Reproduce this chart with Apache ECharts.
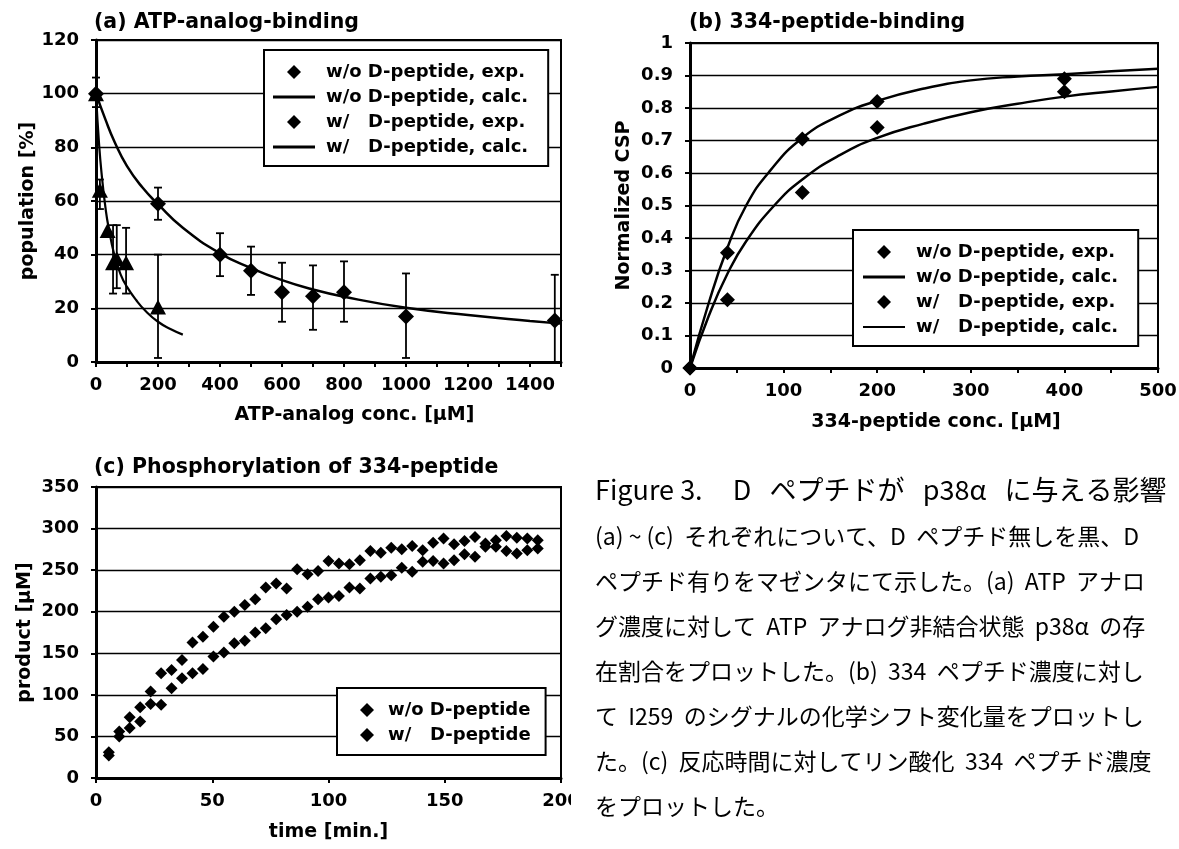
<!DOCTYPE html>
<html><head><meta charset="utf-8">
<script src="https://cdn.jsdelivr.net/npm/echarts/dist/echarts.min.js"></script>
<style>html,body{margin:0;padding:0;background:#fff}#c{width:1179px;height:849px}</style>
</head><body><div id="c"></div>
<script>
// ---------- DATA ----------
// (a) ATP-analog-binding
const aWoX    = [0, 200, 400, 500, 600, 700, 800, 1000, 1480];
const aWoY    = [100, 59, 40, 34, 26, 24.5, 26, 17, 15.5];
const aWoLow  = [95, 53, 32, 25, 15, 12, 15, 1.5, 0];
const aWoHigh = [106, 65, 48, 43, 37, 36, 37.5, 33, 32.5];
const aWX     = [0, 12.5, 37.5, 55, 67, 97, 200];
const aWY     = [100, 64, 49, 37, 38.5, 37, 20.5];
const aWLow   = [null, 57, null, 25.5, 27.5, 25.5, 1.5];
const aWHigh  = [null, 68, null, 51, 51, 50, 40];
const aCalcWoX = [0, 30, 60, 100, 150, 200, 280, 400, 500, 600, 700, 800, 1000, 1200, 1400, 1500];
const aCalcWoY = [100, 90.5, 82, 73, 65, 58.8, 50, 40.5, 35, 30.5, 27, 24.3, 20.2, 17.5, 15.3, 14.3];
const aCalcWX  = [0, 10, 20, 30, 40, 60, 80, 100, 130, 160, 200, 240, 280];
const aCalcWY  = [100, 81, 68, 58, 50.5, 39.5, 32.5, 28, 23, 19, 15, 12.3, 10.2];
const aXTicks = [0, 200, 400, 600, 800, 1000, 1200, 1400];
const aYTicks = [0, 20, 40, 60, 80, 100, 120];

// (b) 334-peptide-binding
const bX   = [0, 40, 120, 200, 400];
const bWoY = [0, 0.355, 0.705, 0.82, 0.89];
const bWY  = [0, 0.21, 0.54, 0.74, 0.85];
const bCalcWoX = [0, 20, 40, 60, 85, 120, 160, 200, 250, 300, 350, 400, 450, 500];
const bCalcWoY = [0, 0.2, 0.37, 0.5, 0.605, 0.708, 0.777, 0.822, 0.86, 0.885, 0.897, 0.904, 0.913, 0.921];
const bCalcWX  = [0, 20, 40, 60, 90, 120, 160, 200, 250, 300, 350, 400, 450, 500];
const bCalcWY  = [0, 0.16, 0.29, 0.39, 0.5, 0.58, 0.655, 0.708, 0.752, 0.787, 0.813, 0.835, 0.851, 0.865];
const bXTicks = [0, 100, 200, 300, 400, 500];
const bYTicks = [0, 0.1, 0.2, 0.3, 0.4, 0.5, 0.6, 0.7, 0.8, 0.9, 1];

// (c) Phosphorylation of 334-peptide
const cT  = [5.5, 10, 14.5, 19, 23.5, 28, 32.5, 37, 41.5, 46, 50.5, 55, 59.5, 64, 68.5, 73, 77.5, 82, 86.5, 91, 95.5,
             100, 104.5, 109, 113.5, 118, 122.5, 127, 131.5, 136, 140.5, 145, 149.5, 154, 158.5, 163, 167.5, 172, 176.5, 181, 185.5, 190];
const cWo = [31, 56, 73, 85, 104, 126, 130, 142, 163, 170, 182, 194, 200, 208, 215, 229, 234, 228, 251, 245, 249,
             261, 258, 257, 262, 273, 271, 277, 275, 279, 274, 283, 288, 281, 285, 290, 282, 286, 291, 289, 288, 286];
const cW  = [27, 50, 60, 68, 89, 88, 108, 120, 126, 131, 146, 151, 162, 165, 175, 180, 191, 196, 200, 206, 215,
             217, 219, 229, 228, 240, 242, 244, 253, 248, 260, 261, 258, 262, 269, 266, 278, 278, 273, 270, 274, 276];
const cXTicks = [0, 50, 100, 150, 200];
const cYTicks = [0, 50, 100, 150, 200, 250, 300, 350];

// Caption
const captionTitle = 'Figure 3.     D   ペプチドが   p38α   に与える影響';
const captionLines = [
  '(a) ~ (c)  それぞれについて、D  ペプチド無しを黒、D',
  'ペプチド有りをマゼンタにて示した。(a)  ATP  アナロ',
  'グ濃度に対して  ATP  アナログ非結合状態  p38α  の存',
  '在割合をプロットした。(b)  334  ペプチド濃度に対し',
  'て  I259  のシグナルの化学シフト変化量をプロットし',
  'た。(c)  反応時間に対してリン酸化  334  ペプチド濃度',
  'をプロットした。'
];

// ---------- HELPERS ----------
const N_WO_EXP = 'w/o D-peptide, exp.';
const N_WO_CALC = 'w/o D-peptide, calc.';
const N_W_EXP = 'w/   D-peptide, exp.';
const N_W_CALC = 'w/   D-peptide, calc.';
const N_WO = 'w/o D-peptide';
const N_W = 'w/   D-peptide';

const BOLD = {fontFamily: 'DejaVu Sans', fontWeight: 'bold', color: '#000'};
const pairs = (xs, ys) => xs.map((x, i) => [x, ys[i]]);
const errs = (xs, lo, hi) => xs.map((x, i) => [x, lo[i], hi[i]]).filter(r => r[1] != null);
const tickFmt = list => v => (list.some(t => Math.abs(t - v) < 1e-9) ? String(+v.toFixed(2)) : '');

function errRender(params, api) {
  const x = api.value(0), lo = api.value(1), hi = api.value(2);
  const p1 = api.coord([x, lo]), p2 = api.coord([x, hi]);
  const hw = 4, st = {stroke: '#000', lineWidth: 1.8};
  return {type: 'group', children: [
    {type: 'line', shape: {x1: p1[0], y1: p1[1], x2: p2[0], y2: p2[1]}, style: st},
    {type: 'line', shape: {x1: p1[0] - hw, y1: p1[1], x2: p1[0] + hw, y2: p1[1]}, style: st},
    {type: 'line', shape: {x1: p2[0] - hw, y1: p2[1], x2: p2[0] + hw, y2: p2[1]}, style: st}
  ]};
}

function xAxis(gi, min, max, interval, ticks, name, gap, shift) {
  return {
    type: 'value', gridIndex: gi, min, max, interval,
    axisLine: {show: true, onZero: false, lineStyle: {color: '#000', width: 3}},
    axisTick: {show: true, inside: false, length: 5, lineStyle: {color: '#000', width: 2}},
    axisLabel: Object.assign({fontSize: 18, margin: 14, formatter: tickFmt(ticks), showMaxLabel: true}, BOLD),
    splitLine: {show: false},
    name, nameLocation: 'middle', nameGap: gap,
    nameTextStyle: Object.assign({fontSize: 19, padding: [0, 0, 0, shift]}, BOLD)
  };
}
function yAxis(gi, min, max, interval, ticks, name, gap) {
  return {
    type: 'value', gridIndex: gi, min, max, interval,
    axisLine: {show: true, onZero: false, lineStyle: {color: '#000', width: 3}},
    axisTick: {show: true, inside: false, length: 5, lineStyle: {color: '#000', width: 2}},
    axisLabel: Object.assign({fontSize: 18, margin: 17, formatter: tickFmt(ticks)}, BOLD),
    splitLine: {show: true, lineStyle: {color: '#000', width: 1.4}},
    name, nameLocation: 'middle', nameGap: gap,
    nameTextStyle: Object.assign({fontSize: 19}, BOLD)
  };
}

const DIAM = 'path://M0,0M48,14M21,0L28,7L21,14L14,7Z';
const LINE_THICK = 'path://M0,0M48,14M0,5.5L42,5.5L42,8.5L0,8.5Z';
const LINE_THIN = 'path://M0,0M48,14M0,6L42,6L42,8L0,8Z';
const DIAM_C = 'path://M0,0M26,14M10,0L17,7L10,14L3,7Z';

function legend(left, top, data, itemWidth, padding) {
  return {
    left, top, orient: 'vertical', itemWidth, itemHeight: 14, itemGap: 5,
    padding, backgroundColor: '#fff', borderColor: '#000', borderWidth: 2, borderRadius: 0,
    selectedMode: false, itemStyle: {borderWidth: 0, opacity: 1},
    textStyle: Object.assign({fontSize: 18, lineHeight: 20}, BOLD),
    data
  };
}

const gridBase = {show: true, borderColor: '#000', borderWidth: 2, backgroundColor: 'transparent', containLabel: false, outerBoundsMode: 'none'};
const titleStyle = Object.assign({fontSize: 20.5}, BOLD);
const curve = {smooth: 0.5, symbol: 'none', showSymbol: false, color: '#000', z: 4};
const dot = {itemStyle: {color: '#000', opacity: 1}, z: 5};

const option = {
  animation: false,
  backgroundColor: '#fff',
  textStyle: {fontFamily: 'DejaVu Sans'},
  title: [
    {text: '(a) ATP-analog-binding', left: 94, top: 12, padding: 0, textStyle: titleStyle},
    {text: '(b) 334-peptide-binding', left: 689, top: 12, padding: 0, textStyle: titleStyle},
    {text: '(c) Phosphorylation of 334-peptide', left: 94, top: 457, padding: 0, textStyle: titleStyle}
  ],
  grid: [
    Object.assign({left: 96, top: 40, width: 465, height: 322}, gridBase),
    Object.assign({left: 690, top: 43, width: 468, height: 325}, gridBase),
    Object.assign({left: 96, top: 487, width: 465, height: 291}, gridBase)
  ],
  xAxis: [
    xAxis(0, 0, 1500, 100, aXTicks, 'ATP-analog conc. [μM]', 44, 52),
    xAxis(1, 0, 500, 50, bXTicks, '334-peptide conc. [μM]', 45, 24),
    xAxis(2, 0, 200, 50, cXTicks, 'time [min.]', 45, 0)
  ],
  yAxis: [
    yAxis(0, 0, 120, 20, aYTicks, 'population [%]', 44),
    yAxis(1, 0, 1, 0.1, bYTicks, 'Normalized CSP', 56),
    yAxis(2, 0, 350, 50, cYTicks, 'product [μM]', 61)
  ],
  legend: [
    legend(264, 50, [{name: N_WO_EXP, icon: DIAM}, {name: N_WO_CALC, icon: LINE_THICK}, {name: N_W_EXP, icon: DIAM}, {name: N_W_CALC, icon: LINE_THICK}], 48, [12, 20, 9, 9]),
    legend(853, 230, [{name: N_WO_EXP, icon: DIAM}, {name: N_WO_CALC, icon: LINE_THICK}, {name: N_W_EXP, icon: DIAM}, {name: N_W_CALC, icon: LINE_THIN}], 48, [12, 20, 9, 10]),
    legend(337, 688, [{name: N_WO, icon: DIAM_C}, {name: N_W, icon: DIAM_C}], 26, [12, 15, 10, 20])
  ],
  series: [
    // (a)
    {type: 'custom', name: 'err-a-wo', xAxisIndex: 0, yAxisIndex: 0, renderItem: errRender, data: errs(aWoX, aWoLow, aWoHigh), encode: {x: 0, y: [1, 2]}, z: 3, silent: true},
    {type: 'custom', name: 'err-a-w', xAxisIndex: 0, yAxisIndex: 0, renderItem: errRender, data: errs(aWX, aWLow, aWHigh), encode: {x: 0, y: [1, 2]}, z: 3, silent: true},
    Object.assign({type: 'line', name: N_WO_CALC, xAxisIndex: 0, yAxisIndex: 0, data: pairs(aCalcWoX, aCalcWoY), lineStyle: {color: '#000', width: 2.5}}, curve),
    Object.assign({type: 'line', name: N_W_CALC, xAxisIndex: 0, yAxisIndex: 0, data: pairs(aCalcWX, aCalcWY), lineStyle: {color: '#000', width: 2.2}}, curve),
    Object.assign({type: 'scatter', name: N_WO_EXP, xAxisIndex: 0, yAxisIndex: 0, data: pairs(aWoX, aWoY), symbol: 'diamond', symbolSize: [16, 16]}, dot),
    Object.assign({type: 'scatter', name: N_W_EXP, xAxisIndex: 0, yAxisIndex: 0, data: pairs(aWX, aWY), symbol: 'triangle', symbolSize: [16, 15]}, dot),
    // (b)
    Object.assign({type: 'line', name: N_WO_CALC, xAxisIndex: 1, yAxisIndex: 1, data: pairs(bCalcWoX, bCalcWoY), lineStyle: {color: '#000', width: 2.5}}, curve),
    Object.assign({type: 'line', name: N_W_CALC, xAxisIndex: 1, yAxisIndex: 1, data: pairs(bCalcWX, bCalcWY), lineStyle: {color: '#000', width: 2.5}}, curve),
    Object.assign({type: 'scatter', name: N_WO_EXP, xAxisIndex: 1, yAxisIndex: 1, data: pairs(bX, bWoY), symbol: 'diamond', symbolSize: 15}, dot),
    Object.assign({type: 'scatter', name: N_W_EXP, xAxisIndex: 1, yAxisIndex: 1, data: pairs(bX, bWY), symbol: 'diamond', symbolSize: 15}, dot),
    // (c)
    Object.assign({type: 'scatter', name: N_WO, xAxisIndex: 2, yAxisIndex: 2, data: pairs(cT, cWo), symbol: 'diamond', symbolSize: 12}, dot),
    Object.assign({type: 'scatter', name: N_W, xAxisIndex: 2, yAxisIndex: 2, data: pairs(cT, cW), symbol: 'diamond', symbolSize: 12}, dot)
  ],
  graphic: [
    {type: 'rect', z: 100, shape: {x: 571, y: 786, width: 22, height: 34}, style: {fill: '#fff'}},
    {type: 'text', x: 595, y: 490, z: 100, style: {text: captionTitle, font: '27px "Noto Sans CJK JP"', fill: '#000', verticalAlign: 'middle', textVerticalAlign: 'middle'}}
  ].concat(captionLines.map((t, i) => ({
    type: 'text', x: 595, y: 536 + i * 45, z: 100,
    style: {text: t, font: '23px "Noto Sans CJK JP"', fill: '#000', verticalAlign: 'middle', textVerticalAlign: 'middle'}
  })))
};

const chart = echarts.init(document.getElementById('c'), null, {renderer: 'canvas'});
chart.setOption(option);
</script>
</body></html>
